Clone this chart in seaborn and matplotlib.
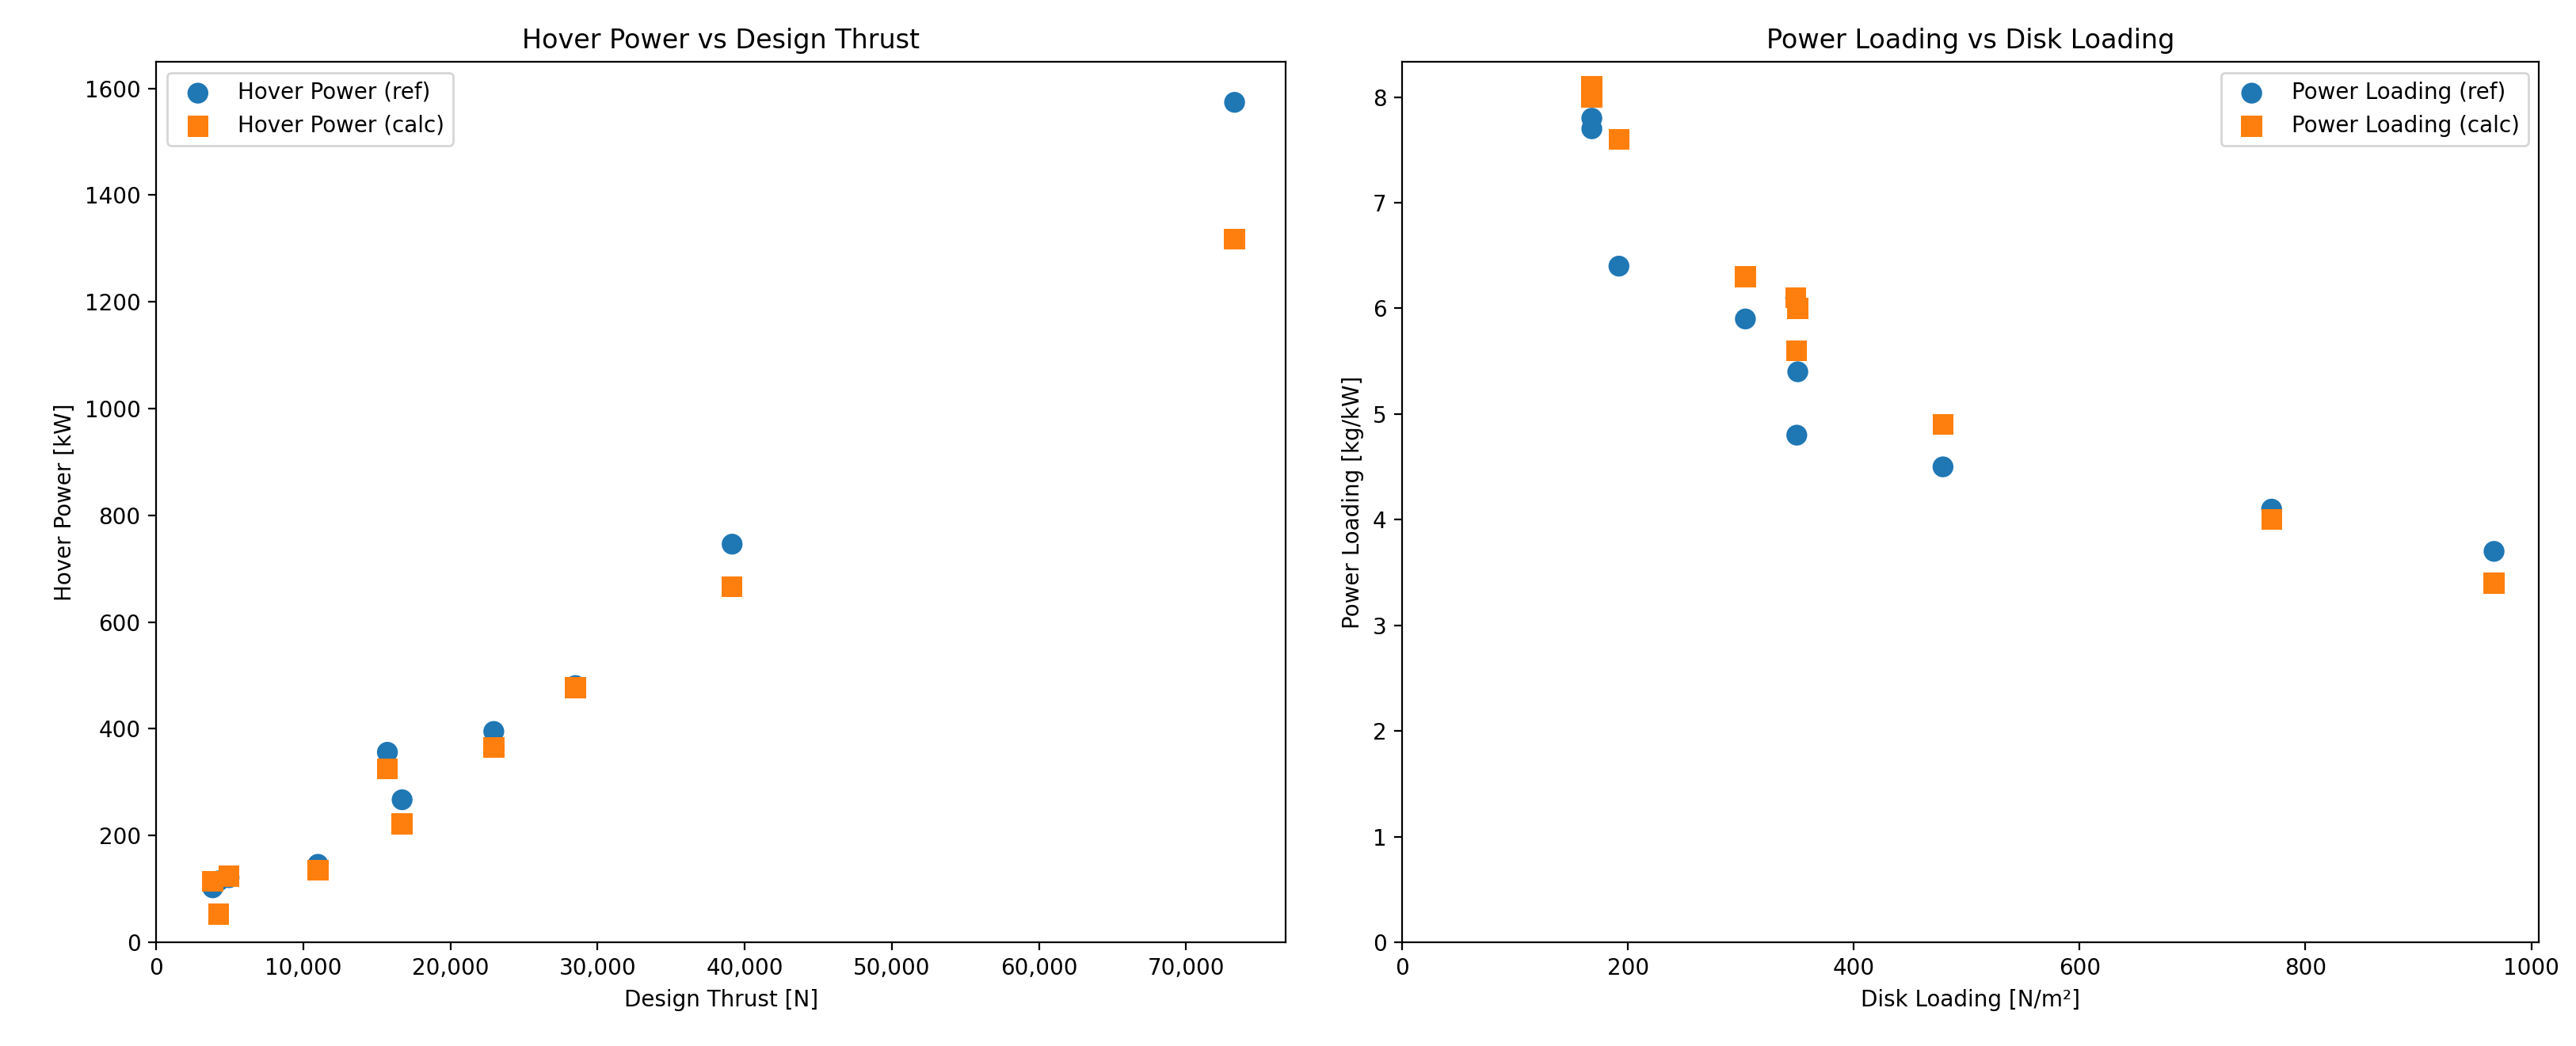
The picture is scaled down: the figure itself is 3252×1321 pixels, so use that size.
import matplotlib
matplotlib.use("Agg")
import matplotlib.pyplot as plt
import matplotlib.ticker as mticker
import seaborn as sns
import pandas as pd

# ---- data ----
design_thrust = [3850, 4250, 4960, 11000, 15720, 16720, 22950, 28500, 39150, 73300]
hover_power_ref = [102, 115, 121, 146, 356, 267, 395, 481, 746, 1574]
hover_power_calc = [114, 52.5, 124, 135, 325, 222, 365, 477, 666, 1318]

disk_loading = [168, 168, 192, 304, 348.5, 350.4, 349.5, 479, 770, 967]
power_loading_ref = [7.8, 7.7, 6.4, 5.9, 6.1, 5.4, 4.8, 4.5, 4.1, 3.7]
power_loading_calc = [8.1, 8.0, 7.6, 6.3, 6.1, 6.0, 5.6, 4.9, 4.0, 3.4]

left_df = pd.DataFrame({"thrust": design_thrust, "ref": hover_power_ref, "calc": hover_power_calc})
right_df = pd.DataFrame({"dl": disk_loading, "ref": power_loading_ref, "calc": power_loading_calc})

plt.rcParams["font.family"] = ["DejaVu Sans"]
fig = plt.figure(figsize=(16.26, 6.605), dpi=200)
ax1 = fig.add_axes([0.0606, 0.0992, 0.4385, 0.8418])
ax2 = fig.add_axes([0.5443, 0.0992, 0.4414, 0.8418])

blue = "#1f77b4"
orange = "#ff7f0e"
S = 90
kw = dict(s=S, linewidth=0, edgecolor="none")

sns.scatterplot(data=left_df, x="thrust", y="ref", ax=ax1, color=blue, marker="o",
                label="Hover Power (ref)", **kw)
sns.scatterplot(data=left_df, x="thrust", y="calc", ax=ax1, color=orange, marker="s",
                label="Hover Power (calc)", **kw)
ax1.set_xlim(left=0)
ax1.set_ylim(bottom=0)
ax1.set_title("Hover Power vs Design Thrust", fontsize=12)
ax1.set_xlabel("Design Thrust [N]")
ax1.set_ylabel("Hover Power [kW]")
ax1.xaxis.set_major_formatter(mticker.StrMethodFormatter("{x:,.0f}"))
ax1.legend(loc="upper left")

sns.scatterplot(data=right_df, x="dl", y="ref", ax=ax2, color=blue, marker="o",
                label="Power Loading (ref)", **kw)
sns.scatterplot(data=right_df, x="dl", y="calc", ax=ax2, color=orange, marker="s",
                label="Power Loading (calc)", **kw)
ax2.set_xlim(left=0)
ax2.set_ylim(bottom=0)
ax2.set_title("Power Loading vs Disk Loading", fontsize=12)
ax2.set_xlabel("Disk Loading [N/m²]")
ax2.set_ylabel("Power Loading [kg/kW]")
ax2.legend(loc="upper right")

fig.savefig("out.png", dpi=200)
